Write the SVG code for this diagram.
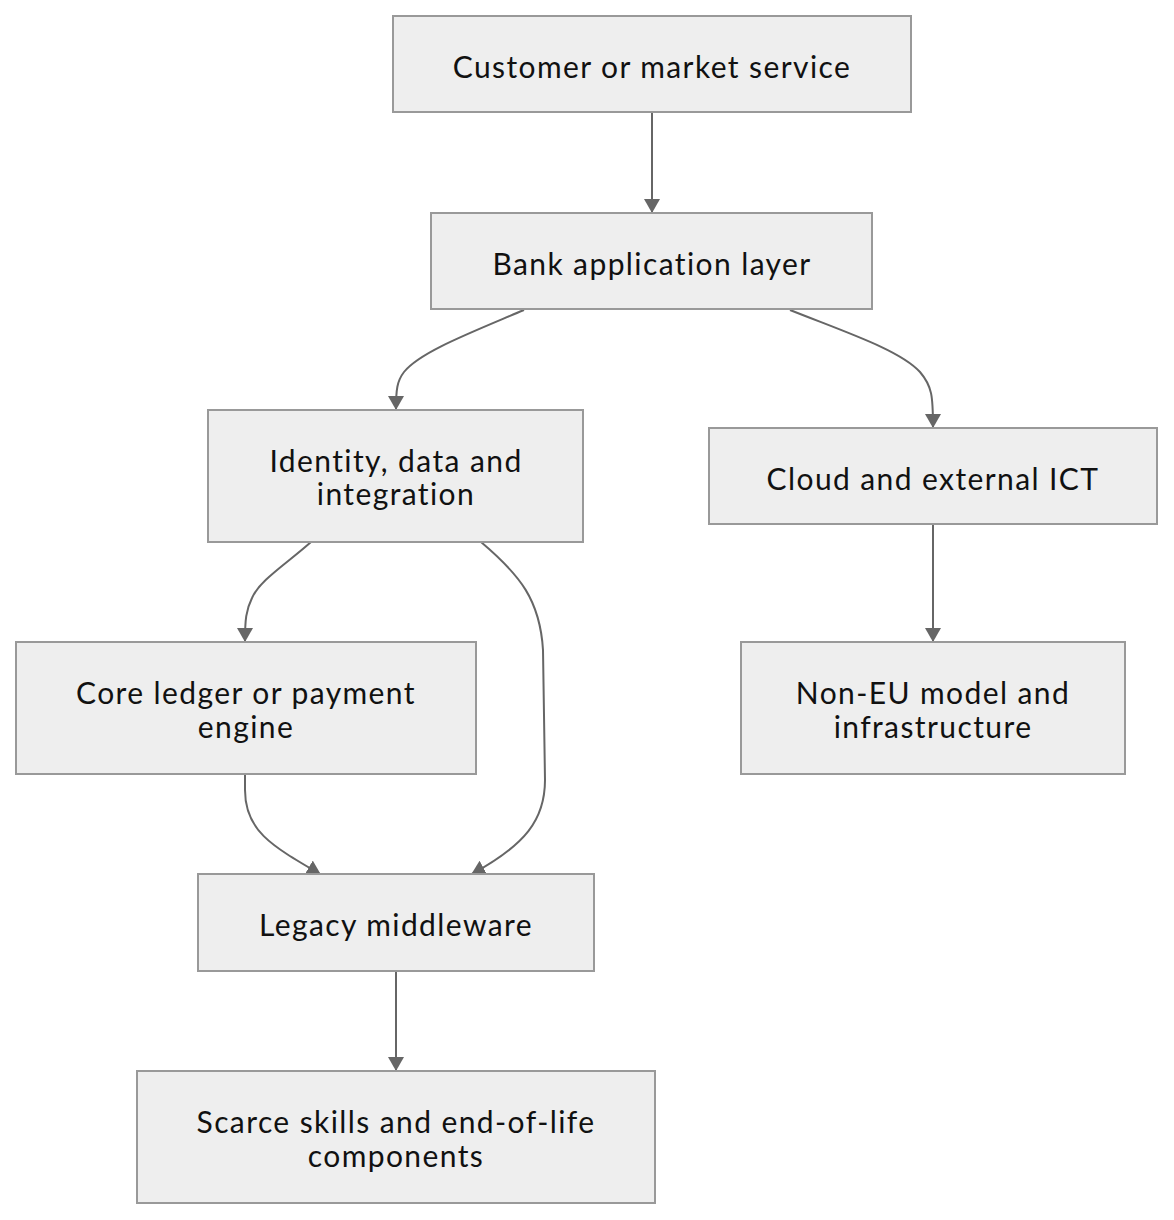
<svg xmlns="http://www.w3.org/2000/svg" width="1174" height="1220" viewBox="0 0 1174 1220">
<style>
.node rect{fill:#eeeeee;stroke:#999999;stroke-width:2}
.node text{font-family:Lato,"Open Sans",sans-serif;font-size:30px;letter-spacing:1.4px;fill:#111111;text-anchor:middle}
.edge{fill:none;stroke:#666666;stroke-width:2}
</style>
<defs>
<marker id="arrow" viewBox="0 0 14 16" refX="13" refY="8" markerWidth="14" markerHeight="16" markerUnits="userSpaceOnUse" orient="auto">
<path d="M0,0 L14,8 L0,16 z" fill="#666666"/>
</marker>
</defs>
<rect width="1174" height="1220" fill="#ffffff"/>
<g id="connectors">
<path class="edge" marker-end="url(#arrow)" d="M652,113 L652,212"/>
<path class="edge" marker-end="url(#arrow)" d="M524,310 C470,333 420,352 404,372 C397,381 396,390 396,409"/>
<path class="edge" marker-end="url(#arrow)" d="M790,310 C845,332 900,350 920,372 C932,386 933,396 933,427"/>
<path class="edge" marker-end="url(#arrow)" d="M311,542 C285,565 260,580 252,598 C246,610 245,620 245,641"/>
<path class="edge" marker-end="url(#arrow)" d="M481,542 C520,575 540,600 543,650 L545,780 C545,820 525,845 472,874"/>
<path class="edge" marker-end="url(#arrow)" d="M245,774 L245,790 C245,830 270,845 320,874"/>
<path class="edge" marker-end="url(#arrow)" d="M933,524 L933,641"/>
<path class="edge" marker-end="url(#arrow)" d="M396,971 L396,1070"/>
</g>
<g id="customer" class="node"><rect x="393" y="16" width="518" height="96"/><text x="652" y="77.5">Customer or market service</text></g>
<g id="bank" class="node"><rect x="431" y="213" width="441" height="96"/><text x="652" y="274.5">Bank application layer</text></g>
<g id="identity" class="node"><rect x="208" y="410" width="375" height="132"/><text x="396" y="472">Identity, data and</text><text x="396" y="505">integration</text></g>
<g id="cloud" class="node"><rect x="709" y="428" width="448" height="96"/><text x="933" y="489.5">Cloud and external ICT</text></g>
<g id="core" class="node"><rect x="16" y="642" width="460" height="132"/><text x="246" y="704">Core ledger or payment</text><text x="246" y="738">engine</text></g>
<g id="noneu" class="node"><rect x="741" y="642" width="384" height="132"/><text x="933" y="704">Non-EU model and</text><text x="933" y="738">infrastructure</text></g>
<g id="legacy" class="node"><rect x="198" y="874" width="396" height="97"/><text x="396" y="936">Legacy middleware</text></g>
<g id="scarce" class="node"><rect x="137" y="1071" width="518" height="132"/><text x="396" y="1133">Scarce skills and end-of-life</text><text x="396" y="1167">components</text></g>
</svg>
